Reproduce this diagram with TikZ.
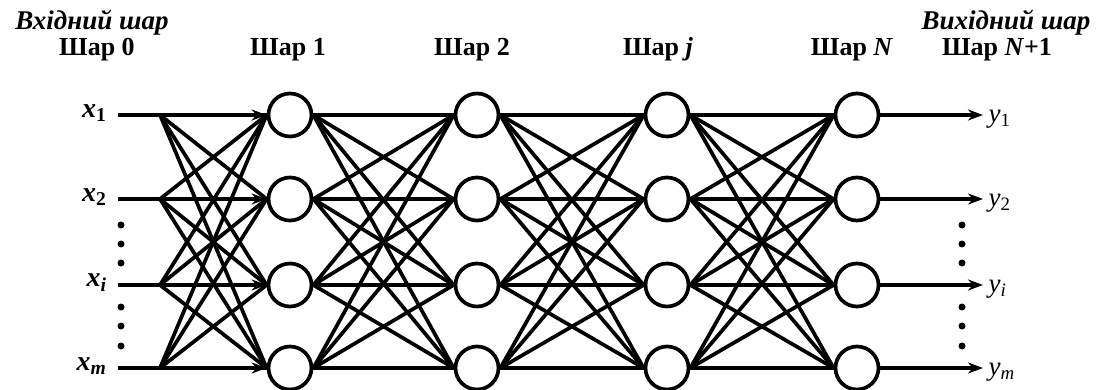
\documentclass[tikz,border=0pt]{standalone}
\usepackage{fontspec}
\setmainfont{Liberation Serif}
\usetikzlibrary{arrows.meta}
\begin{document}
\begin{tikzpicture}[x=1pt,y=-1pt,
  neuron/.style={circle,draw,line width=3.7pt,minimum size=43pt,inner sep=0pt},
  conn/.style={line width=3.7pt},
  feed/.style={line width=3.7pt,-{Stealth[length=15pt,width=11pt]}},
  dotmark/.style={circle,fill,inner sep=0pt,minimum size=7pt},
  layertitle/.style={font=\bfseries\fontsize{26}{28}\selectfont,anchor=base},
  sidetitle/.style={font=\bfseries\itshape\fontsize{27}{28}\selectfont,anchor=base},
  invar/.style={font=\bfseries\itshape\fontsize{28}{28}\selectfont,anchor=east},
  outvar/.style={font=\itshape\fontsize{27}{28}\selectfont,anchor=west}]
\useasboundingbox (0,0) rectangle (1097,390);

% layer titles
\node[sidetitle] (tin)  at (92,30)   {Вхідний шар};
\node[sidetitle] (tout) at (1006,30) {Вихідний шар};
\node[layertitle] (t0) at (97,56)  {Шар 0};
\node[layertitle] (t1) at (288,56) {Шар 1};
\node[layertitle] (t2) at (472,56) {Шар 2};
\node[layertitle] (tj) at (658,56) {Шар \textit{j}};
\node[layertitle] (tN) at (852,56) {Шар \textit{N}};
\node[layertitle] (tN1) at (997,56) {Шар \textit{N}+1};

% row heights
\def\ya{115}\def\yb{199}\def\yc{285}\def\yd{368}

% neurons: columns a (layer 1), b (layer 2), c (layer j), d (layer N)
\foreach \c/\x in {a/290,b/477,c/667,d/857}{
  \foreach \r/\y in {1/\ya,2/\yb,3/\yc,4/\yd}{
    \node[neuron] (\c\r) at (\x,\y) {};
  }
}

% inputs
\foreach \r/\y/\lab in {1/\ya/{\textsubscript{\upshape 1}},2/\yb/{\textsubscript{\upshape 2}},3/\yc/{\textsubscript{\textit{i}}},4/\yd/{\textsubscript{\textit{m}}}}{
  \coordinate (in\r) at (118,\y);
  \coordinate (fan\r) at (160,\y);
  \node[invar] (xl\r) at (110,\y-2) {x\lab};
}
\foreach \r in {1,...,4}{
  \draw[feed] (in\r) -- (a\r.west);
  \foreach \s in {1,...,4}{
    \draw[conn] (fan\r) -- (a\s.west);
  }
}

% hidden connections
\foreach \p/\q in {a/b,b/c,c/d}{
  \foreach \r in {1,...,4}{
    \foreach \s in {1,...,4}{
      \draw[conn] (\p\r.east) -- (\q\s.west);
    }
  }
}

% outputs
\foreach \r/\y/\lab in {1/\ya/{\textsubscript{\upshape 1}},2/\yb/{\textsubscript{\upshape 2}},3/\yc/{\textsubscript{\textit{i}}},4/\yd/{\textsubscript{\textit{m}}}}{
  \coordinate (out\r) at (983,\y);
  \draw[feed] (d\r.east) -- (out\r);
  \node[outvar] (yl\r) at (985,\y+4) {y\lab};
}

% ellipsis dots between rows
\foreach \xx/\side in {121/l,962/r}{
  \foreach \yy in {225,244,263,307,326,346}{
    \node[dotmark] (dot\side\yy) at (\xx,\yy) {};
  }
}
\end{tikzpicture}
\end{document}
